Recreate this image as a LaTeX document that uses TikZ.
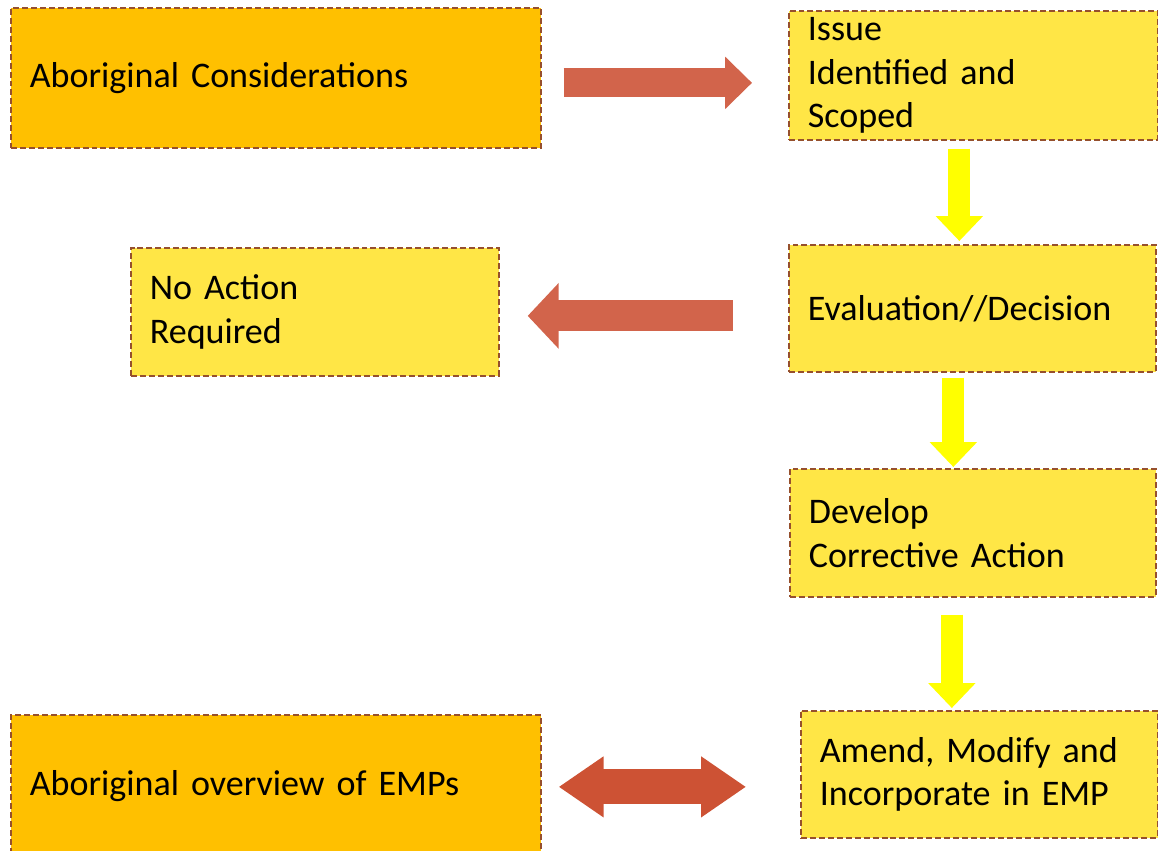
\documentclass[tikz,border=0pt]{standalone}
\usepackage{fontspec}
\setmainfont{Carlito}
\usetikzlibrary{arrows.meta,calc,positioning}
\definecolor{AmberFill}{RGB}{255,192,0}
\definecolor{LemonFill}{RGB}{255,230,70}
\definecolor{EdgeBrown}{RGB}{150,80,45}
\definecolor{ArrowRust}{RGB}{210,100,75}
\definecolor{ArrowDeep}{RGB}{205,82,52}
\definecolor{ArrowLemon}{RGB}{255,255,0}

\tikzset{
  stepbox/.style={draw=EdgeBrown,dash pattern=on 3.4pt off 1.7pt,line width=1pt,
    anchor=north west,align=left,inner xsep=0.38cm,inner ysep=0pt,
    font=\fontsize{20.5}{25}\selectfont},
  amberbox/.style={stepbox,fill=AmberFill},
  lemonbox/.style={stepbox,fill=LemonFill},
  rustarrow/.style={draw=ArrowRust,line width=#1},
  lemonarrow/.style={draw=ArrowLemon,line width=0.44cm,
    -{Triangle[length=0.5cm,width=0.92cm]}}
}

\begin{document}
\begin{tikzpicture}[x=0.02cm,y=-0.02cm]
  \useasboundingbox (0,0) rectangle (1158,850);

  % boxes
  \node[amberbox,text width=9.84cm,minimum height=2.8cm] (cons) at (10,7)
    {Aboriginal Considerations};
  \node[lemonbox,text width=6.62cm,minimum height=2.58cm] (issue) at (788,10)
    {\rule{0pt}{0.3cm}Issue\\Identified and\\Scoped};
  \node[lemonbox,text width=6.58cm,minimum height=2.54cm] (eval) at (788,244)
    {Evaluation//Decision};
  \node[lemonbox,text width=6.6cm,minimum height=2.56cm] (noact) at (130,247)
    {No Action\\Required};
  \node[lemonbox,text width=6.56cm,minimum height=2.56cm] (develop) at (789,468)
    {Develop\\Corrective Action};
  \node[lemonbox,text width=6.38cm,minimum height=2.54cm] (amend) at (800,710)
    {Amend, Modify and\\Incorporate in EMP};
  \node[amberbox,text width=9.84cm,minimum height=2.84cm] (overview) at (10,714)
    {Aboriginal overview of EMPs};

  % block arrows
  \draw[rustarrow=0.58cm,-{Triangle[length=0.54cm,width=1.02cm]},
    shorten <=0.44cm,shorten >=0.72cm]
    ([yshift=-0.1cm]cons.east) -- ([yshift=-0.1cm]cons.east -| issue.west);
  \draw[rustarrow=0.62cm,-{Triangle[length=0.62cm,width=1.28cm]},
    shorten <=1.1cm,shorten >=0.56cm]
    ([yshift=-0.15cm]eval.west) -- ([yshift=-0.15cm]eval.west -| noact.east);
  \draw[lemonarrow,shorten <=0.16cm,shorten >=0.06cm]
    ([xshift=-0.28cm]issue.south) -- ([xshift=-0.28cm]issue.south |- eval.north);
  \draw[lemonarrow,shorten <=0.1cm,shorten >=0.02cm]
    ([xshift=-0.38cm]eval.south) -- ([xshift=-0.38cm]eval.south |- develop.north);
  \draw[lemonarrow,shorten <=0.34cm,shorten >=0.04cm]
    ([xshift=-0.42cm]develop.south) -- ([xshift=-0.42cm]develop.south |- amend.north);
  \draw[rustarrow=0.7cm,draw=ArrowDeep,
    {Triangle[length=0.9cm,width=1.16cm]}-{Triangle[length=0.9cm,width=1.16cm]},
    shorten <=0.34cm,shorten >=1.08cm]
    ([yshift=-0.02cm]overview.east) -- ([yshift=-0.02cm]overview.east -| amend.west);
\end{tikzpicture}
\end{document}
